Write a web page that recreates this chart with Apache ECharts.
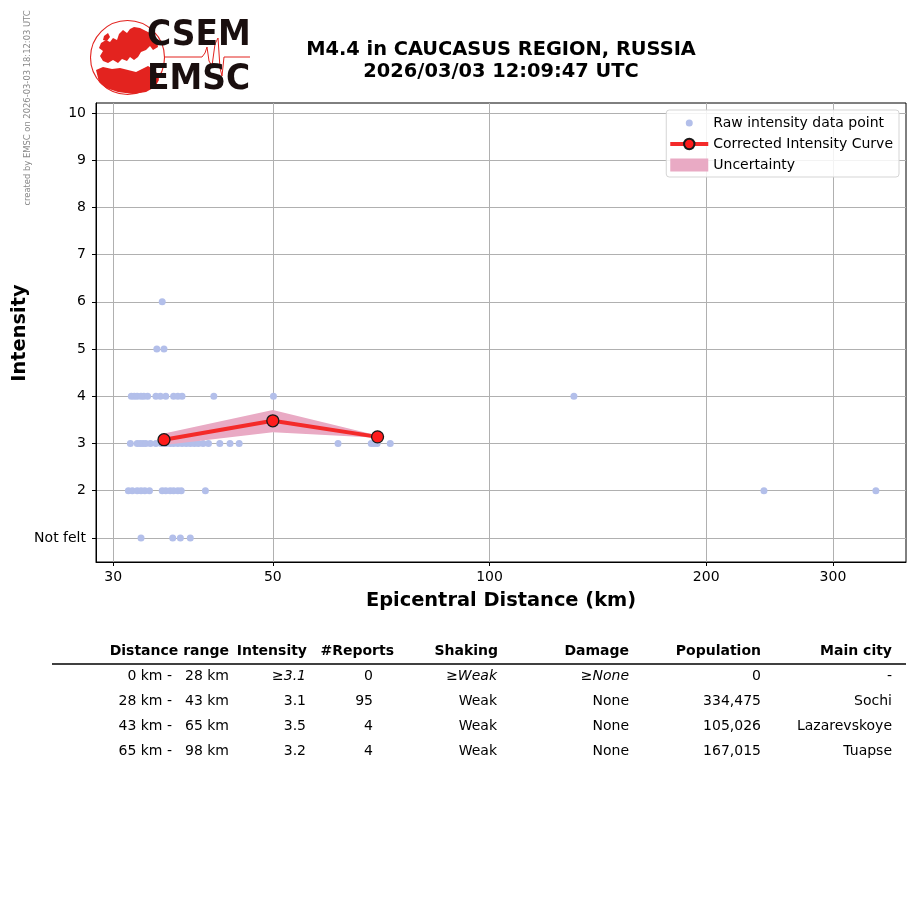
<!DOCTYPE html>
<html>
<head>
<meta charset="utf-8">
<script src="https://cdn.jsdelivr.net/npm/echarts@6/dist/echarts.min.js"></script>
<style>
html,body{margin:0;padding:0;background:#fff;}
#c{width:915px;height:905px;}
</style>
</head>
<body>
<div id="c"></div>
<script>
// ---------- DATA ----------
const titleLines = ['M4.4 in CAUCASUS REGION, RUSSIA', '2026/03/03 12:09:47 UTC'];
const creditText = 'created by EMSC on 2026-03-03 18:12:03 UTC';
const xTicks = [30, 50, 100, 200, 300];
const yTicks = [1, 2, 3, 4, 5, 6, 7, 8, 9, 10];
const yTickNames = {1: 'Not felt'};

// raw intensity reports: epicentral distances (km) per intensity level
const rawDist1 = [32.8, 36.3, 37.2, 38.4];
const rawDist2 = [31.5, 31.9, 32.4, 32.8, 33.2, 33.7, 35.1, 35.5, 36.0, 36.4, 36.9, 37.3, 40.3, 240.6, 344.2];
const rawDist3 = [31.7, 32.4, 32.7, 33.0, 33.3, 33.8, 34.4, 35.0, 35.5, 36.0, 36.4, 36.9, 37.4, 37.9, 38.4, 38.9, 39.4, 40.0, 40.7, 42.2, 43.6, 44.9, 61.6, 68.5, 69.1, 69.8, 72.8];
const rawDist4 = [31.8, 32.1, 32.4, 32.8, 33.1, 33.5, 34.4, 34.9, 35.5, 36.4, 36.9, 37.4, 41.4, 50.1, 131.0];
const rawDist5 = [34.5, 35.3];
const rawDist6 = [35.1];

// corrected intensity curve and uncertainty
const curveDist = [35.3, 50.0, 69.9];
const curveInt  = [3.08, 3.48, 3.14];
const bandLow   = [2.97, 3.24, 3.12];
const bandHigh  = [3.21, 3.71, 3.17];

// table
const tableHeader = ['Distance range', 'Intensity', '#Reports', 'Shaking', 'Damage', 'Population', 'Main city'];
const rangeLo = [0, 28, 43, 65];
const rangeHi = [28, 43, 65, 98];
const rowIntensity = ['3.1', '3.1', '3.5', '3.2'];
const rowReports = [0, 95, 4, 4];
const rowShaking = ['Weak', 'Weak', 'Weak', 'Weak'];
const rowDamage = ['None', 'None', 'None', 'None'];
const rowPopulation = ['0', '334,475', '105,026', '167,015'];
const rowCity = ['-', 'Sochi', 'Lazarevskoye', 'Tuapse'];
const rowLowerBound = [true, false, false, false];

// ---------- BUILD ----------
const FONT = 'DejaVu Sans';
const RED = '#e3231f';
const rawData = [];
[[1, rawDist1], [2, rawDist2], [3, rawDist3], [4, rawDist4], [5, rawDist5], [6, rawDist6]].forEach(([lvl, arr]) => {
  arr.forEach(d => rawData.push([d, lvl]));
});
const curveData = curveDist.map((d, i) => [d, curveInt[i]]);
const bandData = curveDist.map((d, i) => [d, bandLow[i], bandHigh[i]]);

const graphics = [];
// credit text (vertical)
graphics.push({type: 'text', x: 28, y: 108, rotation: Math.PI / 2,
  style: {text: creditText, fontSize: 8.4, fontFamily: FONT, fill: '#888', textAlign: 'center', textVerticalAlign: 'middle'}});
// title
titleLines.forEach((t, i) => graphics.push({type: 'text', x: 501, y: 50 + i * 22,
  style: {text: t, fontSize: 19.4, fontWeight: 'bold', fontFamily: FONT, fill: '#000', textAlign: 'center', textVerticalAlign: 'middle'}}));
// logo
graphics.push({type: 'circle', shape: {cx: 127.5, cy: 57.5, r: 37}, style: {fill: '#fff', stroke: RED, lineWidth: 1.1}});
// Europe (rough)
graphics.push({type: 'polygon', shape: {points: [[101,43],[106,40],[110,42],[113,38],[117,40],[119,34],[123,30],[127,33],[130,29],[134,27],[140,28],[146,31],[152,34],[157,40],[158,47],[153,50],[150,46],[146,50],[141,52],[138,57],[134,60],[130,57],[127,61],[122,59],[118,63],[113,60],[108,63],[103,61],[100,56],[103,51],[99,48]]}, style: {fill: RED}});
// British isles
graphics.push({type: 'polygon', shape: {points: [[104,36],[108,33],[110,37],[107,41],[103,40]]}, style: {fill: RED}});
// Africa / Middle East (rough)
graphics.push({type: 'polygon', shape: {points: [[96,70],[103,67],[112,69],[120,68],[128,70],[136,72],[142,69],[148,66],[153,69],[157,73],[159,80],[155,87],[146,92],[133,94],[118,92],[106,88],[99,82]]}, style: {fill: RED}});
graphics.push({type: 'polyline', shape: {points: [[164,57],[202,57],[205,53],[207,47],[209,61],[212,66],[215,44],[218,38],[220,68],[222,76],[224,57],[250,57]]}, style: {stroke: RED, lineWidth: 1, fill: null}});
graphics.push({type: 'text', x: 147, y: 35.5, style: {text: 'CSEM', fontSize: 35, fontWeight: 'bold', fontFamily: 'DejaVu Sans', fill: '#1a0f0f', textAlign: 'left', textVerticalAlign: 'middle'}, scaleX: 0.94});
graphics.push({type: 'text', x: 147, y: 80, style: {text: 'EMSC', fontSize: 35, fontWeight: 'bold', fontFamily: 'DejaVu Sans', fill: '#1a0f0f', textAlign: 'left', textVerticalAlign: 'middle'}, scaleX: 0.94});
// axis names
graphics.push({type: 'text', x: 20, y: 333, rotation: Math.PI / 2,
  style: {text: 'Intensity', fontSize: 19.4, fontWeight: 'bold', fontFamily: FONT, fill: '#000', textAlign: 'center', textVerticalAlign: 'middle'}});
graphics.push({type: 'text', x: 501, y: 601,
  style: {text: 'Epicentral Distance (km)', fontSize: 19.4, fontWeight: 'bold', fontFamily: FONT, fill: '#000', textAlign: 'center', textVerticalAlign: 'middle'}});

// table
const colRight = [229, 307, 394, 498, 629, 761, 892];
const headerY = 651, rowY0 = 676, rowStep = 25;
function txt(x, y, s, opts) {
  graphics.push({type: 'text', x: x, y: y, style: Object.assign({text: s, fontSize: 14, fontFamily: FONT, fill: '#000', textAlign: 'right', textVerticalAlign: 'middle'}, opts || {})});
}
tableHeader.forEach((h, i) => txt(colRight[i], headerY, h, {fontWeight: 'bold'}));
graphics.push({type: 'line', shape: {x1: 52, y1: 664, x2: 906, y2: 664}, style: {stroke: '#000', lineWidth: 1.5}});
function richBound(v, lb) {
  return lb ? {text: '{n|≥}{i|' + v + '}', rich: {n: {fontSize: 14, fontFamily: FONT}, i: {fontSize: 14, fontFamily: FONT, fontStyle: 'italic'}}} : {text: v};
}
rangeLo.forEach((lo, r) => {
  const y = rowY0 + r * rowStep;
  const lb = rowLowerBound[r];
  txt(172, y, lo + ' km -');
  txt(colRight[0], y, rangeHi[r] + ' km');
  graphics.push({type: 'text', x: 306, y: y, style: Object.assign({fontSize: 14, fontFamily: FONT, fill: '#000', textAlign: 'right', textVerticalAlign: 'middle'}, richBound(rowIntensity[r], lb))});
  txt(373, y, String(rowReports[r]));
  graphics.push({type: 'text', x: 497, y: y, style: Object.assign({fontSize: 14, fontFamily: FONT, fill: '#000', textAlign: 'right', textVerticalAlign: 'middle'}, richBound(rowShaking[r], lb))});
  graphics.push({type: 'text', x: 629, y: y, style: Object.assign({fontSize: 14, fontFamily: FONT, fill: '#000', textAlign: 'right', textVerticalAlign: 'middle'}, richBound(rowDamage[r], lb))});
  txt(761, y, rowPopulation[r]);
  txt(892, y, rowCity[r]);
});

const chart = echarts.init(document.getElementById('c'), null, {renderer: 'canvas'});
const option = {
  animation: false,
  backgroundColor: '#fff',
  textStyle: {fontFamily: FONT},
  grid: {left: 96, right: 9, top: 103, bottom: 343, show: true, borderColor: '#000', borderWidth: 1, containLabel: false},
  legend: {
    orient: 'vertical', right: 16, top: 110,
    padding: [6, 6, 5, 2], itemGap: 7, itemWidth: 38, itemHeight: 13,
    backgroundColor: 'rgba(255,255,255,0.85)', borderColor: '#d5d5d5', borderWidth: 1, borderRadius: 3,
    textStyle: {fontSize: 14, color: '#000', fontFamily: FONT},
    data: [
      {name: 'Raw intensity data point', icon: 'path://M0,0L0,0M38,13L38,13M22.5,6.5A3.5,3.5,0,1,1,15.5,6.5A3.5,3.5,0,1,1,22.5,6.5Z'},
      {name: 'Corrected Intensity Curve', lineStyle: {width: 4, color: '#f42a2a'}},
      {name: 'Uncertainty', icon: 'rect'}
    ]
  },
  xAxis: {
    type: 'log', logBase: 10, min: 28.4, max: 379,
    axisLine: {show: true, onZero: false, lineStyle: {color: '#000', width: 1}},
    axisTick: {show: true, length: 4, inside: false, lineStyle: {color: '#000'}, customValues: xTicks},
    axisLabel: {customValues: xTicks, color: '#000', fontSize: 14, margin: 8, formatter: v => String(Math.round(v))},
    splitLine: {show: true, lineStyle: {color: '#b0b0b0', width: 1}},
    minorTick: {show: false}, minorSplitLine: {show: false}
  },
  yAxis: {
    type: 'value', min: 0.49, max: 10.21,
    axisLine: {show: true, onZero: false, lineStyle: {color: '#000', width: 1}},
    axisTick: {show: true, length: 4, lineStyle: {color: '#000'}, customValues: yTicks},
    axisLabel: {customValues: yTicks, color: '#000', fontSize: 14, margin: 10, formatter: v => yTickNames[Math.round(v)] || String(Math.round(v))},
    splitLine: {show: true, lineStyle: {color: '#b0b0b0', width: 1}}
  },
  series: [
    {
      name: 'Raw intensity data point', type: 'scatter', data: rawData,
      symbol: 'circle', symbolSize: 7, itemStyle: {color: '#b3bfea', opacity: 1}, z: 2, silent: true
    },
    {
      name: 'Uncertainty', type: 'custom', data: bandData, z: 3, silent: true,
      itemStyle: {color: '#e9aac4'},
      encode: {x: 0, y: [1, 2]},
      renderItem: function (params, api) {
        if (params.dataIndex !== 0) return null;
        const pts = [];
        for (let i = 0; i < bandData.length; i++) pts.push(api.coord([bandData[i][0], bandData[i][2]]));
        for (let i = bandData.length - 1; i >= 0; i--) pts.push(api.coord([bandData[i][0], bandData[i][1]]));
        return {type: 'polygon', shape: {points: pts}, style: {fill: '#e9aac4', stroke: null}};
      }
    },
    {
      name: 'Corrected Intensity Curve', type: 'line', data: curveData, z: 4,
      symbol: 'circle', symbolSize: 12, showAllSymbol: true,
      lineStyle: {color: '#f42a2a', width: 4},
      itemStyle: {color: '#ff1c1c', borderColor: '#1a1a1a', borderWidth: 1.3},
      silent: true
    }
  ],
  graphic: graphics
};
chart.setOption(option);
</script>
</body>
</html>
